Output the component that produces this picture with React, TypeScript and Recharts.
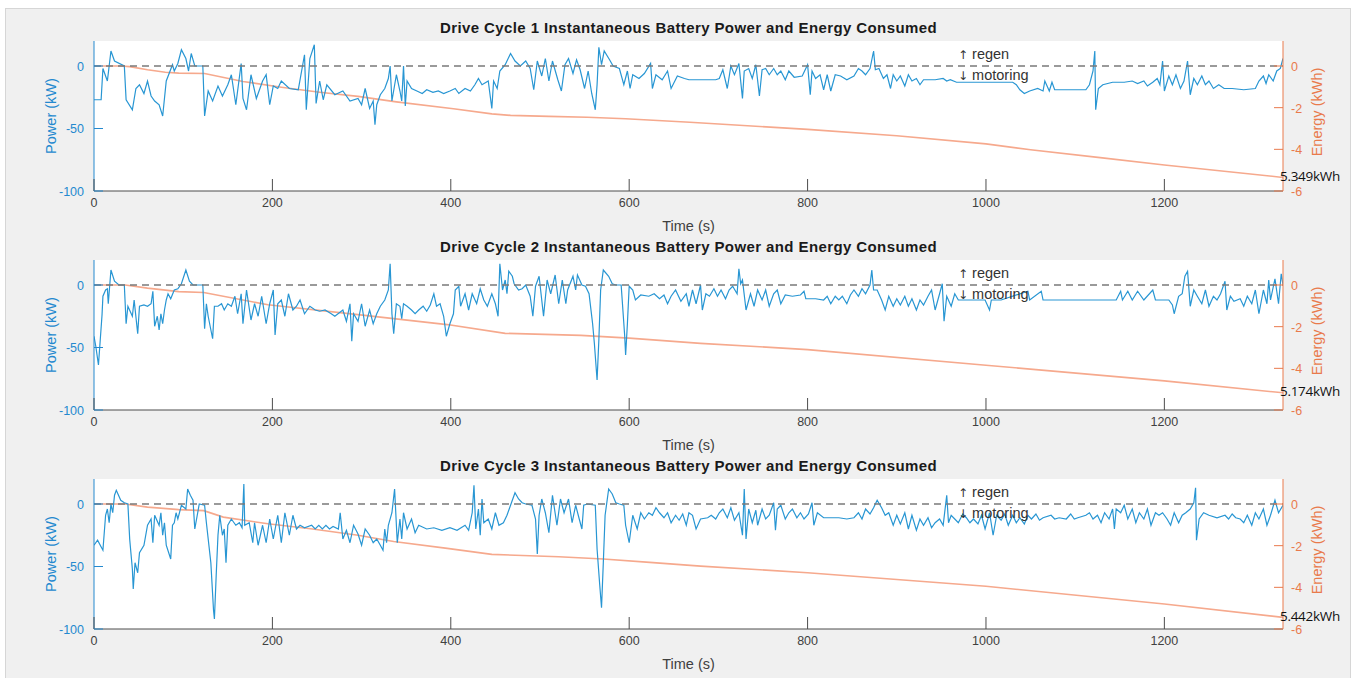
import React from 'react';
import { ComposedChart, Line, XAxis, YAxis, ReferenceLine, CartesianGrid } from 'recharts';

// ---------------- data ----------------
const timeTicks = [0, 200, 400, 600, 800, 1000, 1200];
const powerTicks = [0, -50, -100];
const energyTicks = [0, -2, -4, -6];
const cycleTitles = [
  'Drive Cycle 1 Instantaneous Battery Power and Energy Consumed',
  'Drive Cycle 2 Instantaneous Battery Power and Energy Consumed',
  'Drive Cycle 3 Instantaneous Battery Power and Energy Consumed',
];
const energyTotalsKWh = ['5.349', '5.174', '5.442'];

// [time (s), power (kW)]
const cycle1Power: number[][] = [
  [0, -27], [8, -27], [10, -2], [15, -12], [19, 12], [23, 4], [34, 0], [36, -27], [43, -35], [47, -18],
  [51, -15], [56, -22], [60, -12], [64, -24], [68, -28], [73, -31], [77, -40], [81, -12], [88, 1], [90, -4],
  [94, 2], [98, 13], [103, 6], [106, -4], [109, 10], [113, 0], [122, 0], [124, -40], [128, -20], [133, -28],
  [139, -16], [144, -24], [150, -15], [154, -7], [159, -31], [165, 2], [167, -26], [171, -35], [176, -7], [182, -26],
  [189, -12], [193, -7], [197, -31], [201, -16], [206, -18], [210, -12], [219, -18], [229, -19], [236, 9], [238, -35],
  [242, 6], [247, 17], [249, -30], [253, -12], [257, -27], [261, -15], [270, -23], [279, -20], [287, -28], [296, -26],
  [300, -31], [304, -18], [309, -34], [313, -28], [315, -47], [317, -31], [321, -23], [326, -18], [330, -10], [332, 0],
  [334, -28], [339, -7], [343, -20], [345, -28], [347, 0], [349, -32], [351, -12], [356, -18], [362, -20], [368, -22],
  [373, -19], [380, -21], [386, -20], [392, -22], [399, -20], [405, -18], [409, -22], [416, -18], [422, -20], [427, -15],
  [431, -10], [435, -15], [442, -12], [446, -34], [448, -12], [452, -18], [455, -4], [461, 1], [467, 10], [472, 4],
  [478, 0], [484, 4], [489, -2], [493, -19], [497, 4], [502, -8], [506, 6], [510, -12], [514, 4], [520, -11],
  [524, -20], [528, 1], [532, 6], [537, -6], [541, 5], [545, -3], [550, -18], [554, -4], [558, -22], [562, -35],
  [564, -15], [566, 15], [569, 1], [572, 12], [578, 5], [582, 0], [589, -2], [594, -15], [598, -4], [601, -18],
  [604, -7], [611, -10], [617, -6], [624, 2], [626, -18], [630, -7], [637, -11], [643, -4], [647, -18], [654, -8],
  [662, -10], [667, -11], [680, -11], [697, -11], [701, -10], [705, -3], [710, -18], [714, 0], [718, -7], [723, 2],
  [727, -26], [729, -4], [734, -2], [738, -10], [742, 1], [746, -24], [749, -3], [753, -2], [757, -7], [762, -2],
  [766, -7], [770, -4], [775, -11], [779, -4], [785, -9], [794, -8], [800, 1], [803, -23], [805, -4], [809, -10],
  [814, -7], [818, -19], [822, -7], [826, -20], [831, -7], [837, -8], [844, -11], [852, -8], [857, -2], [861, -4],
  [865, -7], [870, -2], [874, 12], [876, -3], [880, -2], [885, -10], [889, -7], [893, -18], [896, -7], [900, -12],
  [904, -8], [909, -16], [913, -7], [917, -12], [922, -10], [926, -15], [930, -11], [943, -11], [952, -10], [956, -12],
  [960, -11], [967, -13], [1030, -13], [1034, -15], [1038, -19], [1043, -22], [1049, -20], [1058, -18], [1064, -20], [1066, -12],
  [1071, -20], [1074, -13], [1077, -19], [1112, -19], [1116, -15], [1120, -4], [1122, 12], [1123, -35], [1126, -18], [1131, -15],
  [1142, -13], [1155, -13], [1164, -12], [1170, -14], [1177, -12], [1181, -16], [1187, -13], [1192, -10], [1195, -15], [1198, 4],
  [1200, -20], [1205, -8], [1209, -15], [1213, -7], [1218, -18], [1222, -12], [1226, 4], [1229, -23], [1233, -10], [1237, -15],
  [1242, -8], [1246, -15], [1250, -12], [1255, -18], [1261, -15], [1267, -18], [1276, -18], [1289, -19], [1302, -18], [1306, -12],
  [1311, -8], [1314, -14], [1317, -7], [1322, -12], [1326, -4], [1330, -2], [1333, 6],
];

const cycle2Power: number[][] = [
  [0, -41], [2, -49], [5, -64], [7, -44], [9, -24], [10, -9], [13, -4], [15, -3], [16, -15], [19, 12],
  [23, 3], [28, 0], [34, 0], [36, -31], [38, -17], [43, -25], [45, -12], [49, -39], [51, -17], [56, -16],
  [60, -17], [64, -15], [66, -5], [68, -33], [71, -25], [73, -36], [75, -23], [77, -31], [79, -20], [81, -12],
  [83, -7], [86, -11], [90, -4], [94, -3], [98, 1], [103, 12], [107, 3], [111, 0], [122, 0], [124, -35],
  [126, -15], [128, -25], [133, -43], [135, -17], [139, -17], [143, -15], [146, -20], [150, -15], [154, -17], [158, -9],
  [161, -23], [165, -7], [167, -31], [171, -4], [176, -28], [180, -15], [184, -25], [188, -9], [193, -31], [197, -15],
  [201, -4], [203, -40], [206, -15], [210, -12], [214, -25], [218, -7], [223, -20], [227, -17], [231, -12], [236, -23],
  [242, -17], [248, -20], [253, -21], [259, -20], [266, -23], [270, -25], [279, -20], [283, -29], [287, -15], [289, -45],
  [291, -23], [296, -29], [300, -15], [304, -33], [309, -20], [313, -31], [317, -23], [321, -17], [326, -12], [330, -4],
  [332, 17], [334, -23], [336, -39], [339, -15], [343, -17], [345, -27], [347, -15], [351, -17], [356, -20], [360, -23],
  [364, -20], [369, -17], [373, -21], [377, -16], [381, -7], [384, -17], [388, -15], [392, -25], [395, -41], [399, -31],
  [403, -23], [405, -4], [409, -1], [411, -17], [416, -7], [420, -20], [424, -7], [429, -15], [433, -3], [437, -12],
  [441, -17], [446, -7], [450, -15], [453, -25], [455, 17], [458, -4], [461, 4], [463, -7], [465, 11], [469, 7],
  [471, 1], [476, -4], [480, -3], [484, 0], [489, -9], [492, -25], [495, -1], [499, 7], [504, -25], [508, 4],
  [512, -7], [517, 8], [521, -15], [525, 4], [529, -15], [531, -4], [537, 7], [540, -4], [542, 8], [547, 0],
  [551, -1], [555, -7], [559, -31], [561, -47], [564, -76], [566, -44], [568, -4], [571, 12], [577, 7], [581, 1],
  [585, 0], [591, 0], [595, -41], [596, -56], [598, -31], [600, -1], [604, -4], [607, -12], [613, -8], [622, -9],
  [628, -7], [634, -11], [639, -8], [643, -15], [647, -9], [652, -4], [658, -13], [664, -7], [667, -17], [671, -4],
  [675, -15], [680, 0], [682, -20], [686, -7], [690, -9], [695, -3], [699, -9], [703, -4], [708, -11], [712, -4],
  [716, -1], [721, -7], [723, 13], [725, 1], [727, 4], [731, -20], [736, -7], [740, -17], [744, -4], [749, -12],
  [753, -4], [757, -17], [762, -7], [766, -4], [770, -15], [775, -8], [783, -9], [792, -8], [796, -5], [798, -11],
  [809, -11], [818, -12], [822, -9], [826, -15], [831, -9], [835, -12], [839, -9], [844, -15], [848, -8], [852, -4],
  [857, -9], [861, -3], [865, -7], [870, 0], [872, 12], [874, -4], [878, -4], [883, -12], [887, -20], [891, -9],
  [896, -17], [900, -11], [904, -16], [909, -9], [913, -17], [917, -11], [922, -20], [926, -12], [930, -16], [935, -9],
  [939, -4], [943, -20], [948, -7], [951, 1], [953, -29], [956, -9], [961, -17], [965, -7], [969, -12], [974, -12],
  [999, -12], [1004, -20], [1006, -12], [1017, -12], [1047, -5], [1049, -12], [1062, -5], [1064, -12], [1146, -12], [1151, -5],
  [1153, -12], [1159, -5], [1164, -12], [1170, -5], [1177, -12], [1187, -4], [1190, -12], [1205, -12], [1209, -16], [1211, -23],
  [1216, -9], [1220, -7], [1223, 7], [1226, 11], [1229, -17], [1233, -4], [1237, -9], [1242, -15], [1246, -4], [1250, -17],
  [1255, -9], [1259, -12], [1263, -7], [1268, 3], [1270, -20], [1274, -9], [1278, -13], [1285, -11], [1289, -17], [1293, -9],
  [1298, -15], [1302, -4], [1306, -23], [1311, -4], [1315, -15], [1317, 4], [1319, -12], [1324, 5], [1328, -15], [1331, 9],
  [1333, 0],
];

const cycle3Power: number[][] = [
  [0, -33], [4, -29], [10, -37], [13, -9], [15, -4], [17, -15], [19, 0], [21, -7], [23, 7], [25, 11],
  [30, 3], [34, 1], [38, 0], [40, -28], [43, -52], [44, -68], [46, -47], [49, -55], [51, -39], [56, -33],
  [60, -17], [64, -12], [66, -31], [68, -9], [73, -17], [75, -7], [77, -25], [79, -15], [81, -33], [86, -44],
  [88, -17], [90, -15], [92, -7], [94, -12], [98, -1], [103, -4], [105, 12], [108, 7], [111, 3], [113, -20],
  [118, 0], [124, -1], [126, -15], [131, -47], [134, -85], [135, -92], [137, -57], [139, -25], [141, -9], [144, -25],
  [146, -20], [148, -47], [150, -17], [154, -12], [159, -17], [163, -15], [166, -19], [168, 16], [169, -17], [174, -15],
  [178, -31], [180, -15], [184, -33], [189, -17], [193, -31], [197, -12], [201, -28], [206, -9], [210, -31], [214, -7],
  [219, -25], [223, -9], [227, -20], [231, -17], [236, -19], [244, -17], [248, -20], [252, -17], [256, -20], [260, -17],
  [264, -20], [268, -18], [274, -20], [276, -7], [279, -28], [283, -21], [287, -31], [291, -17], [296, -24], [300, -33],
  [304, -20], [309, -25], [313, -31], [317, -28], [321, -33], [324, -37], [326, -20], [328, -31], [330, -17], [334, -7],
  [337, 12], [340, -31], [343, -12], [345, -28], [347, -7], [351, -20], [356, -12], [360, -23], [364, -17], [373, -20],
  [381, -19], [390, -21], [399, -19], [407, -21], [416, -17], [420, -21], [424, -7], [426, 15], [428, -20], [431, -4],
  [433, -25], [435, 4], [437, -15], [442, -12], [446, -20], [450, -7], [454, -17], [459, -15], [463, -9], [467, -1],
  [472, 9], [476, 4], [480, 1], [484, 0], [491, -1], [495, -12], [497, -40], [499, -9], [502, 4], [506, -7],
  [510, -23], [514, 7], [519, -17], [523, 4], [527, -7], [532, 4], [536, -15], [540, -1], [544, -12], [547, -20],
  [549, -1], [553, 0], [562, -1], [564, -36], [567, -65], [569, -83], [571, -47], [573, -9], [577, 12], [581, 8],
  [585, 1], [589, 0], [594, -1], [596, -17], [600, -31], [604, -9], [609, -20], [613, -7], [617, -12], [622, -7],
  [626, -9], [630, -3], [634, -7], [639, -11], [643, -7], [647, -15], [652, -9], [656, -13], [660, -8], [664, -17],
  [667, -7], [671, -9], [675, -20], [680, -12], [688, -11], [692, -9], [697, -12], [701, -7], [705, -4], [710, -11],
  [714, -3], [718, -13], [723, -7], [727, -25], [729, 12], [731, -28], [734, -4], [738, -15], [742, -5], [744, -17],
  [749, -4], [753, -12], [757, -9], [762, 1], [764, -21], [766, -4], [770, -1], [775, -12], [779, -7], [783, -4],
  [788, -11], [792, -7], [796, -12], [801, -8], [805, 1], [807, -17], [811, -7], [818, -11], [835, -11], [844, -12],
  [852, -11], [857, -7], [861, -12], [865, -4], [870, -8], [874, -3], [878, 3], [883, -3], [887, -9], [891, -7],
  [896, -17], [900, -9], [904, -16], [909, -7], [913, -20], [917, -9], [922, -21], [926, -12], [930, -17], [935, -11],
  [939, -19], [943, -15], [948, -12], [952, -17], [956, 7], [958, -15], [961, -9], [965, -12], [969, -15], [974, -8],
  [978, -11], [982, -15], [986, -12], [991, -16], [995, -9], [999, -20], [1004, -7], [1008, -25], [1012, -9], [1017, -13],
  [1021, -8], [1025, -17], [1030, -9], [1034, -15], [1038, -11], [1043, -16], [1047, -9], [1051, -12], [1056, -8], [1060, -13],
  [1064, -11], [1073, -9], [1077, -12], [1082, -11], [1090, -12], [1095, -8], [1099, -12], [1103, -11], [1112, -9], [1116, -7],
  [1120, -12], [1125, -9], [1129, -15], [1133, -7], [1138, -12], [1142, -4], [1144, -20], [1146, -4], [1151, -7], [1155, -1],
  [1159, -12], [1164, -4], [1168, -15], [1172, -7], [1177, -12], [1181, -4], [1185, -17], [1190, -7], [1194, -9], [1198, -7],
  [1203, -12], [1207, -17], [1211, -7], [1216, -15], [1220, -9], [1224, -7], [1229, -4], [1233, 1], [1235, 13], [1236, -29],
  [1239, -12], [1244, -7], [1250, -9], [1259, -11], [1268, -9], [1272, -12], [1276, -8], [1280, -11], [1285, -12], [1289, -15],
  [1293, -9], [1298, -17], [1302, -7], [1306, -12], [1311, -4], [1315, -17], [1319, -9], [1324, 3], [1328, -7], [1333, -1],
];

// [time (s), cumulative energy (kWh)]
const cycle1Energy: number[][] = [
  [0, 0], [30, 0], [40, -0.03], [60, -0.18], [80, -0.3], [95, -0.34], [124, -0.36], [167, -0.74], [210, -1.02],
  [253, -1.26], [296, -1.46], [339, -1.72], [403, -2.05], [446, -2.3], [467, -2.37], [510, -2.42], [553, -2.46],
  [596, -2.53], [668, -2.7], [800, -3.04], [900, -3.35], [1000, -3.74], [1050, -4.02], [1128, -4.4], [1200, -4.75],
  [1333, -5.349],
];
const cycle2Energy: number[][] = [
  [0, 0], [35, 0], [60, -0.15], [95, -0.32], [123, -0.36], [195, -0.95], [296, -1.42], [396, -1.9], [461, -2.32],
  [546, -2.42], [600, -2.55], [680, -2.8], [800, -3.1], [1000, -3.85], [1200, -4.6], [1333, -5.174],
];
const cycle3Energy: number[][] = [
  [0, 0], [35, 0], [60, -0.15], [95, -0.27], [123, -0.32], [145, -0.63], [195, -0.95], [245, -1.2], [296, -1.5],
  [336, -1.8], [396, -2.13], [446, -2.42], [521, -2.53], [571, -2.64], [623, -2.8], [680, -2.98], [800, -3.3],
  [1000, -3.95], [1200, -4.8], [1333, -5.442],
];

const cyclePower = [cycle1Power, cycle2Power, cycle3Power];
const cycleEnergy = [cycle1Energy, cycle2Energy, cycle3Energy];

// ---------------- style ----------------
const W = 1357;
const H = 219;
const PLOT_LEFT = 94;
const PLOT_RIGHT = 1283;
const PLOT_TOP = 41;
const PLOT_BOTTOM = 191;
const BLUE_AXIS = '#2489cf';
const POWER_LINE = '#2896d3';
const ORANGE_AXIS = '#e97a4c';
const ENERGY_LINE = '#f6a98d';
const FONT = '"Liberation Sans", Arial, Helvetica, sans-serif';

const XTick = (props: any) => {
  const { x, y, payload } = props;
  return (
    <g>
      <line x1={x} x2={x} y1={y} y2={y - 12} stroke="#4d4d4d" strokeWidth={1} />
      <text x={x} y={y + 16} textAnchor="middle" fontSize={12.5} fill="#404040" fontFamily={FONT}>
        {payload.value}
      </text>
    </g>
  );
};

const LeftTick = (props: any) => {
  const { x, y, payload } = props;
  return (
    <g>
      <line x1={x} x2={x + 9} y1={y} y2={y} stroke={BLUE_AXIS} strokeWidth={1} />
      <text x={x - 10} y={y + 4.5} textAnchor="end" fontSize={12.5} fill={BLUE_AXIS} fontFamily={FONT}>
        {payload.value}
      </text>
    </g>
  );
};

const RightTick = (props: any) => {
  const { x, y, payload } = props;
  return (
    <g>
      <line x1={x} x2={x - 9} y1={y} y2={y} stroke={ORANGE_AXIS} strokeWidth={1} />
      <text x={x + 8} y={y + 5} textAnchor="start" fontSize={12.5} fill={ORANGE_AXIS} fontFamily={FONT}>
        {payload.value}
      </text>
    </g>
  );
};

function Panel({ idx }: { idx: number }) {
  const top = idx * H;
  const pData = cyclePower[idx].map(([t, p]) => ({ t, p }));
  const eData = cycleEnergy[idx].map(([t, e]) => ({ t, e }));
  const last = eData.length - 1;
  const totalLabel = `${energyTotalsKWh[idx]}kWh`;

  const endLabel = (props: any) => {
    const { x, y, index } = props;
    if (index !== last) return null;
    return (
      <text
        x={x - 3}
        y={y + 3.5}
        fontSize={13.5}
        fill="#111"
        fontFamily='"Open Sans", "Noto Sans", sans-serif'
        letterSpacing={-0.3}
      >
        {totalLabel}
      </text>
    );
  };

  return (
    <div style={{ position: 'absolute', left: 0, top, width: W, height: H }}>
      <ComposedChart width={W} height={H} margin={{ top: PLOT_TOP, right: 0, bottom: 0, left: 0 }}>
        <CartesianGrid horizontal={false} vertical={false} fill="#ffffff" yAxisId="p" />
        <XAxis
          type="number"
          dataKey="t"
          domain={[0, 1333]}
          ticks={timeTicks}
          interval={0}
          allowDataOverflow
          height={H - PLOT_BOTTOM}
          tickSize={0}
          tickMargin={0}
          tickLine={false}
          axisLine={{ stroke: '#4d4d4d', strokeWidth: 1 }}
          tick={XTick}
        />
        <YAxis
          yAxisId="p"
          domain={[-100, 20]}
          ticks={powerTicks}
          interval={0}
          allowDataOverflow
          width={PLOT_LEFT}
          tickSize={0}
          tickMargin={0}
          tickLine={false}
          axisLine={{ stroke: BLUE_AXIS, strokeWidth: 1 }}
          tick={LeftTick}
        />
        <YAxis
          yAxisId="e"
          orientation="right"
          domain={[-6, 1.2]}
          ticks={energyTicks}
          interval={0}
          allowDataOverflow
          width={W - PLOT_RIGHT}
          tickSize={0}
          tickMargin={0}
          tickLine={false}
          axisLine={{ stroke: ORANGE_AXIS, strokeWidth: 1 }}
          tick={RightTick}
        />
        <Line
          yAxisId="e"
          data={eData}
          dataKey="e"
          type="linear"
          stroke={ENERGY_LINE}
          strokeWidth={1.6}
          dot={false}
          isAnimationActive={false}
          label={endLabel}
        />
        <Line
          yAxisId="p"
          data={pData}
          dataKey="p"
          type="linear"
          stroke={POWER_LINE}
          strokeWidth={1.2}
          dot={false}
          isAnimationActive={false}
        />
        <ReferenceLine yAxisId="p" y={0} stroke="#7a7a7a" strokeDasharray="7 5" strokeWidth={1.6} />
      </ComposedChart>

      {/* title */}
      <div
        style={{
          position: 'absolute', left: PLOT_LEFT, width: PLOT_RIGHT - PLOT_LEFT, top: 19, textAlign: 'center',
          fontFamily: FONT, fontWeight: 'bold', fontSize: 15, letterSpacing: 0.4, lineHeight: '18px',
          color: '#1a1a1a', whiteSpace: 'nowrap',
        }}
      >
        {cycleTitles[idx]}
      </div>
      {/* x label */}
      <div
        style={{
          position: 'absolute', left: PLOT_LEFT, width: PLOT_RIGHT - PLOT_LEFT, top: 217, textAlign: 'center',
          fontFamily: FONT, fontSize: 14.5, lineHeight: '18px', color: '#404040',
        }}
      >
        Time (s)
      </div>
      {/* left y label */}
      <div
        style={{
          position: 'absolute', left: 51 - 60, top: 116 - 9, width: 120, height: 18, textAlign: 'center',
          fontFamily: FONT, fontSize: 14.5, lineHeight: '18px', color: BLUE_AXIS, transform: 'rotate(-90deg)',
        }}
      >
        Power (kW)
      </div>
      {/* right y label */}
      <div
        style={{
          position: 'absolute', left: 1317 - 60, top: 112 - 9, width: 120, height: 18, textAlign: 'center',
          fontFamily: FONT, fontSize: 14.5, lineHeight: '18px', color: ORANGE_AXIS, transform: 'rotate(-90deg)',
        }}
      >
        Energy (kWh)
      </div>
      {/* regen / motoring annotation */}
      <div
        style={{
          position: 'absolute', left: 958, top: 54 - 9, fontFamily: FONT, fontSize: 14.5, lineHeight: '18px',
          color: '#333', whiteSpace: 'nowrap',
        }}
      >
        <span style={{ fontFamily: '"DejaVu Sans", sans-serif', fontSize: 12 }}>↑</span> regen
      </div>
      <div
        style={{
          position: 'absolute', left: 958, top: 75 - 9, fontFamily: FONT, fontSize: 14.5, lineHeight: '18px',
          color: '#333', whiteSpace: 'nowrap',
        }}
      >
        <span style={{ fontFamily: '"DejaVu Sans", sans-serif', fontSize: 12 }}>↓</span> motoring
      </div>
    </div>
  );
}

export default function App() {
  return (
    <div style={{ position: 'absolute', left: 0, top: 0, width: W, height: 678, background: '#ffffff', overflow: 'hidden' }}>
      <div
        style={{
          position: 'absolute', left: 5, top: 8, width: 1346, height: 680, background: '#f0f0f0',
          border: '1px solid #d6d6d6', boxSizing: 'border-box',
        }}
      />
      {[0, 1, 2].map((i) => (
        <Panel key={i} idx={i} />
      ))}
    </div>
  );
}
